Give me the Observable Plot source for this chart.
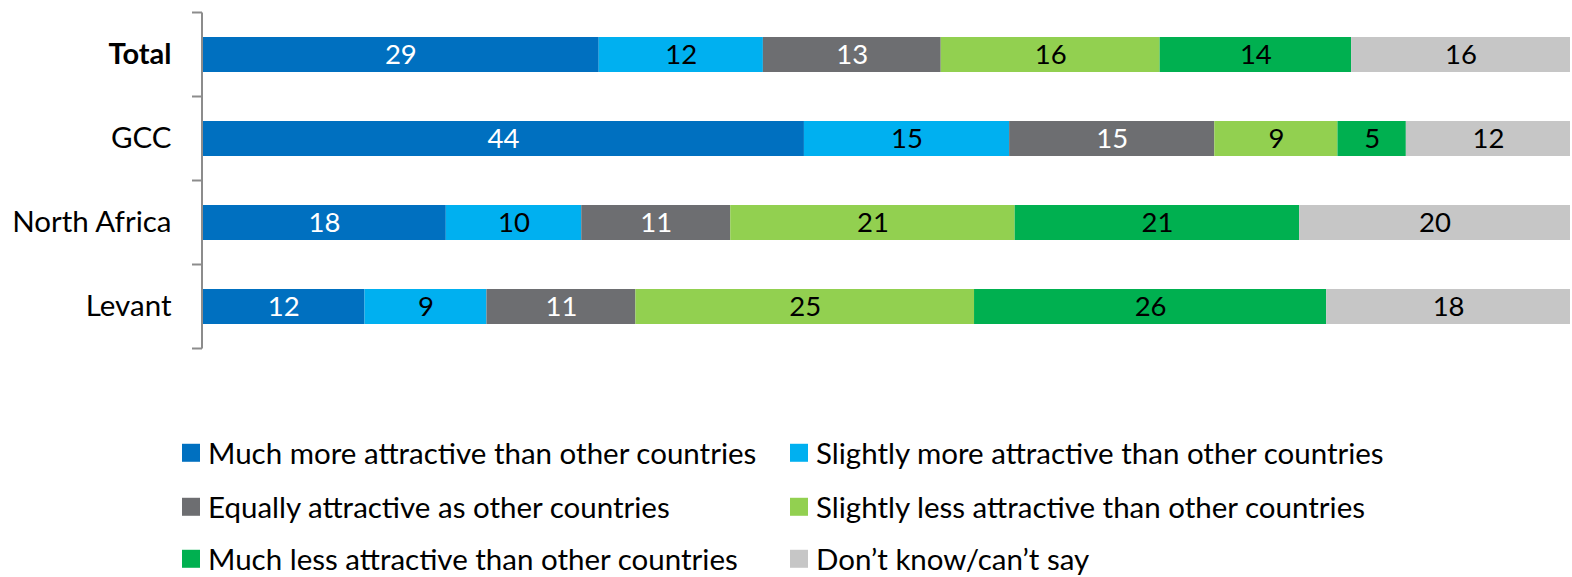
<!DOCTYPE html>
<html><head><meta charset="utf-8">
<script src="https://cdn.jsdelivr.net/npm/d3@7"></script>
<script src="https://cdn.jsdelivr.net/npm/@observablehq/plot@0.6"></script>
<style>
body{margin:0;background:#fff;font-family:Lato,sans-serif;}
#chart{width:1572px;}
#legend{position:relative;width:1572px;height:197px;}
.item{position:absolute;display:flex;align-items:center;font-size:29.5px;color:#000;white-space:nowrap;transform:translateY(-50%);line-height:1.1;}
.sw{width:18px;height:18px;margin-right:8px;flex:none;}
</style></head><body>
<div id="chart"></div>
<div id="legend"></div>
<script>
const categories = ["Total", "GCC", "North Africa", "Levant"];
const seriesNames = [
  "Much more attractive than other countries",
  "Slightly more attractive than other countries",
  "Equally attractive as other countries",
  "Slightly less attractive than other countries",
  "Much less attractive than other countries",
  "Don\u2019t know/can\u2019t say"
];
const seriesColors = ["#0070C0", "#00B0F0", "#6D6E71", "#92D050", "#00B050", "#C6C6C6"];
const labelColors  = ["#ffffff", "#000000", "#ffffff", "#000000", "#000000", "#000000"];
const muchMore     = [29, 44, 18, 12];
const slightlyMore = [12, 15, 10, 9];
const equally      = [13, 15, 11, 11];
const slightlyLess = [16, 9, 21, 25];
const muchLess     = [14, 5, 21, 26];
const dontKnow     = [16, 12, 20, 18];
const seriesValues = [muchMore, slightlyMore, equally, slightlyLess, muchLess, dontKnow];

const data = [];
seriesNames.forEach((s, si) => categories.forEach((c, ci) => data.push({category: c, series: s, value: seriesValues[si][ci]})));
const colorOf = s => seriesColors[seriesNames.indexOf(s)];
const labelColorOf = s => labelColors[seriesNames.indexOf(s)];

function axisMark(index, scales) {
  const y = scales.y, x = scales.x;
  const bw = y.bandwidth ? y.bandwidth() : scales.scales.y.bandwidth;
  const step = y.step ? y.step() : scales.scales.y.step;
  const x0 = x(0);
  const g = d3.create("svg:g").attr("stroke", "#8c8c8c").attr("stroke-width", 2).attr("fill", "none");
  const gap = (step - bw) / 2;
  const bounds = categories.map(c => y(c) - gap);
  bounds.push(y(categories[categories.length - 1]) + bw + gap);
  g.append("line").attr("x1", x0).attr("x2", x0).attr("y1", bounds[0]).attr("y2", bounds[bounds.length - 1]);
  for (const b of bounds) g.append("line").attr("x1", x0 - 10).attr("x2", x0).attr("y1", b).attr("y2", b);
  return g.node();
}

const stackOpts = {x: "value", y: "category", z: "series", order: seriesNames, offset: "normalize"};
const plot = Plot.plot({
  width: 1572,
  height: 380,
  marginLeft: 202,
  marginRight: 2,
  marginTop: 11,
  marginBottom: 30,
  x: {domain: [0, 1], axis: null},
  y: {domain: categories, axis: null, paddingInner: 0.587, paddingOuter: 0.2935},
  color: {type: "identity"},
  marks: [
    Plot.barX(data, Plot.stackX({...stackOpts, fill: d => colorOf(d.series)})),
    Plot.text(data, Plot.stackX({...stackOpts, text: d => String(d.value), fill: d => labelColorOf(d.series), fontSize: 27.5, fontFamily: "Lato"})),
    Plot.text(categories.filter(c => c === "Total"), {y: d => d, text: d => d, frameAnchor: "left", textAnchor: "end", dx: -31, fontSize: 29, fontWeight: "bold", fontFamily: "Lato", fill: "#000"}),
    Plot.text(categories.filter(c => c !== "Total"), {y: d => d, text: d => d, frameAnchor: "left", textAnchor: "end", dx: -31, fontSize: 29.5, fontFamily: "Lato", fill: "#000"}),
    axisMark
  ]
});
document.getElementById("chart").appendChild(plot);

const legend = document.getElementById("legend");
const colLeft = [182, 790];
const rowTop = [73, 127, 179];
seriesNames.forEach((s, i) => {
  const item = document.createElement("div");
  item.className = "item";
  item.style.left = colLeft[i % 2] + "px";
  item.style.top = rowTop[Math.floor(i / 2)] + "px";
  const sw = document.createElement("span");
  sw.className = "sw";
  sw.style.background = seriesColors[i];
  const t = document.createElement("span");
  t.textContent = s;
  item.appendChild(sw);
  item.appendChild(t);
  legend.appendChild(item);
});
</script>
</body></html>
